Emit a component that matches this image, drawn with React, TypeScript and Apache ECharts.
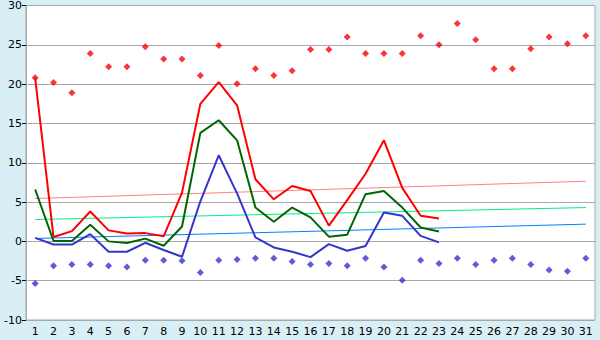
import React, { useEffect, useRef } from "react";
import * as echarts from "echarts";

const days = Array.from({ length: 31 }, (_, i) => String(i + 1));

const maxPoints = [20.8, 20.2, 18.9, 23.9, 22.2, 22.2, 24.75, 23.2, 23.2, 21.1, 24.9, 20.05, 21.95, 21.1, 21.7, 24.4, 24.4, 26.0, 23.9, 23.9, 23.9, 26.15, 25.0, 27.7, 25.65, 21.95, 21.95, 24.5, 26.0, 25.15, 26.15];
const minPoints = [-5.35, -3.1, -2.95, -2.95, -3.1, -3.25, -2.4, -2.4, -2.45, -3.95, -2.4, -2.3, -2.15, -2.15, -2.55, -2.95, -2.8, -3.1, -2.15, -3.25, -4.95, -2.4, -2.8, -2.15, -2.95, -2.4, -2.15, -2.95, -3.65, -3.8, -2.15];

const redLine = [20.8, 0.55, 1.3, 3.8, 1.4, 1.0, 1.05, 0.64, 6.2, 17.5, 20.25, 17.3, 7.9, 5.35, 7.05, 6.4, 2.0, 5.25, 8.6, 12.85, 6.8, 3.25, 2.9];
const greenLine = [6.6, 0.05, 0.05, 2.1, 0.0, -0.2, 0.35, -0.55, 1.9, 13.8, 15.4, 12.85, 4.3, 2.5, 4.3, 3.05, 0.6, 0.85, 6.0, 6.4, 4.3, 1.77, 1.25];
const blueLine = [0.45, -0.4, -0.4, 0.92, -1.32, -1.32, -0.18, -1.1, -1.96, 5.1, 10.95, 6.1, 0.5, -0.77, -1.32, -2.0, -0.35, -1.2, -0.6, 3.67, 3.25, 0.7, -0.13];

const normalHigh = [5.45, 7.65];
const normalMean = [2.78, 4.3];
const normalLow = [0.37, 2.19];

const yTicks = [-10, -5, 0, 5, 10, 15, 20, 25, 30];

export default function App() {
  const ref = useRef<HTMLDivElement>(null);
  useEffect(() => {
    if (!ref.current) return;
    const chart = echarts.init(ref.current, null, { renderer: "svg" });
    const font = { fontFamily: "DejaVu Sans", fontSize: 11, color: "#000" };
    const ends = (v: number[]) => [[0, v[0]], [30, v[1]]];
    chart.setOption({
      animation: false,
      backgroundColor: "#D9EFF6",
      grid: {
        left: 26,
        right: 5,
        top: 5,
        bottom: 20,
        show: true,
        backgroundColor: "#FFFFFF",
        borderColor: "#A8A8A8",
        borderWidth: 1,
      },
      xAxis: {
        type: "category",
        data: days,
        boundaryGap: true,
        axisLine: { lineStyle: { color: "#A8A8A8" } },
        axisTick: { alignWithLabel: true, length: 5, lineStyle: { color: "#000" } },
        axisLabel: { ...font, margin: 6, interval: 0 },
        splitLine: { show: false },
      },
      yAxis: {
        type: "value",
        min: -10,
        max: 30,
        interval: 5,
        axisLine: { show: true, lineStyle: { color: "#A8A8A8" } },
        axisTick: { show: true, length: 4, lineStyle: { color: "#000" } },
        axisLabel: { ...font, margin: 4 },
        splitLine: { lineStyle: { color: "#A8A8A8", width: 1 } },
      },
      series: [
        { type: "line", data: ends(normalHigh), symbol: "none", lineStyle: { color: "#FF8080", width: 1 }, silent: true },
        { type: "line", data: ends(normalMean), symbol: "none", lineStyle: { color: "#00F080", width: 1 }, silent: true },
        { type: "line", data: ends(normalLow), symbol: "none", lineStyle: { color: "#0080FF", width: 1 }, silent: true },
        { type: "line", data: redLine, symbol: "none", lineStyle: { color: "#FF0000", width: 2 } },
        { type: "line", data: greenLine, symbol: "none", lineStyle: { color: "#006600", width: 2 } },
        { type: "line", data: blueLine, symbol: "none", lineStyle: { color: "#3535CC", width: 2 } },
        { type: "scatter", data: maxPoints, symbol: "diamond", symbolSize: 7, itemStyle: { color: "#FF0000" } },
        { type: "scatter", data: minPoints, symbol: "diamond", symbolSize: 7, itemStyle: { color: "#3535CC" } },
      ],
    });
    return () => chart.dispose();
  }, []);
  return (
    <div
      ref={ref}
      style={{ position: "absolute", left: 0, top: 0, width: 600, height: 340 }}
    />
  );
}
